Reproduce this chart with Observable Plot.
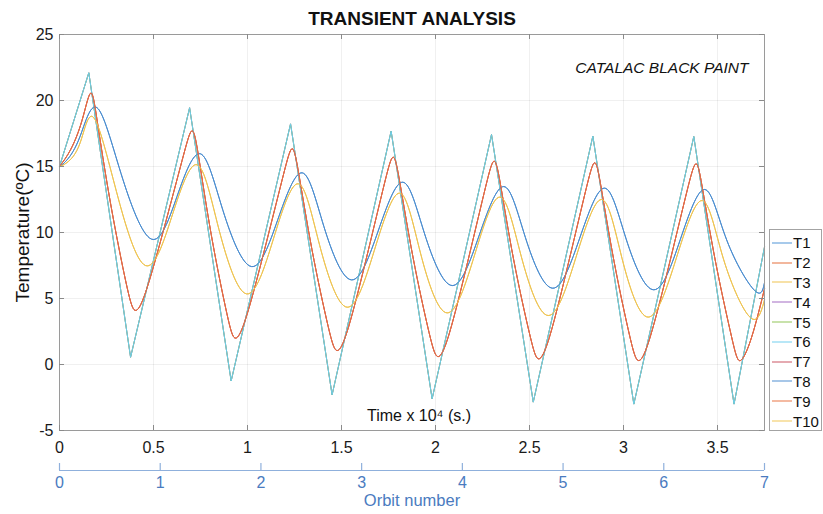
<!DOCTYPE html>
<html><head><meta charset="utf-8">
<script src="https://cdn.jsdelivr.net/npm/d3@7"></script>
<script src="https://cdn.jsdelivr.net/npm/@observablehq/plot@0.6"></script>
<style>
body{margin:0;background:#fff;font-family:"Liberation Sans",Arial,sans-serif;}
#wrap{position:relative;width:823px;height:514px;overflow:hidden;}
#main,#orbit{display:block;height:auto;}
#legend{position:absolute;left:769px;top:229px;width:51px;height:197px;padding-top:3px;border:1px solid #a3a3a3;background:#fff;}
.row{height:19.8px;display:flex;align-items:center;font-size:15px;color:#111;white-space:nowrap;}
.row svg{margin-left:2px;margin-right:1px;}
</style></head>
<body><div id="wrap"><div id="main"></div><div id="orbit"></div><div id="legend"></div></div>
<script>
// ---------- data ----------
const seriesNames = ["T1","T2","T3","T4","T5","T6","T7","T8","T9","T10"];
const seriesColors = ["#4a92d4","#e46a36","#eec04a","#a066c0","#8cc252","#6ccdee","#c8505e","#4a8bcf","#e8703f","#efc552"];
const seriesProfile = ["blue","orange","yellow","saw","saw","saw","orange","blue","orange","yellow"];

const xTicks = [0, 0.5, 1, 1.5, 2, 2.5, 3, 3.5];
const yTicks = [-5, 0, 5, 10, 15, 20, 25];
const orbitTicks = [0, 1, 2, 3, 4, 5, 6, 7];

// surface nodes: sawtooth response (time x 10^4 s, temperature ºC)
const sawTime = [0, 0.156, 0.378, 0.692, 0.913, 1.229, 1.45, 1.764, 1.982, 2.298, 2.52, 2.837, 3.055, 3.374, 3.588, 3.75];
const sawTemp = [15, 22.1, 0.55, 19.45, -1.25, 18.23, -2.3, 17.68, -2.6, 17.42, -2.85, 17.3, -3.0, 17.27, -3.0, 8.9];

const orangeTime = [0, 0.06, 0.12, 0.165, 0.201, 0.27, 0.356, 0.404, 0.464, 0.567, 0.661, 0.706, 0.741, 0.807, 0.89, 0.936, 0.996, 1.099, 1.193, 1.238, 1.274, 1.343, 1.429, 1.477, 1.537, 1.638, 1.73, 1.775, 1.811, 1.88, 1.966, 2.014, 2.074, 2.175, 2.267, 2.312, 2.348, 2.416, 2.502, 2.549, 2.609, 2.71, 2.802, 2.847, 2.882, 2.95, 3.034, 3.081, 3.142, 3.246, 3.34, 3.386, 3.421, 3.49, 3.575, 3.622, 3.682, 3.75];
const orangeTemp = [15, 16.3, 18.5, 20.55, 18.41, 12.33, 6.07, 4.1, 5.73, 10.9, 15.93, 17.7, 15.66, 9.85, 3.88, 2.0, 3.72, 9.17, 14.48, 16.34, 14.35, 8.7, 2.89, 1.06, 2.82, 8.38, 13.8, 15.7, 13.74, 8.15, 2.41, 0.6, 2.38, 8.0, 13.48, 15.4, 13.45, 7.92, 2.23, 0.43, 2.21, 7.86, 13.35, 15.28, 13.33, 7.79, 2.1, 0.3, 2.09, 7.75, 13.26, 15.2, 13.26, 7.75, 2.09, 0.3, 2.09, 5.73];

const blueTime = [0, 0.04, 0.11, 0.2, 0.327, 0.489, 0.625, 0.75, 0.869, 1.021, 1.161, 1.291, 1.406, 1.553, 1.695, 1.826, 1.942, 2.089, 2.231, 2.363, 2.478, 2.624, 2.767, 2.899, 3.014, 3.161, 3.302, 3.432, 3.549, 3.698, 3.75];
const blueTemp = [15, 15.5, 17.3, 19.45, 14.48, 9.5, 12.73, 15.96, 11.69, 7.42, 10.97, 14.52, 10.47, 6.41, 10.11, 13.81, 9.9, 5.98, 9.73, 13.48, 9.63, 5.78, 9.57, 13.36, 9.51, 5.66, 9.46, 13.26, 9.43, 5.6, 6.2];

const yellowTime = [0, 0.04, 0.11, 0.182, 0.303, 0.457, 0.6, 0.732, 0.848, 0.995, 1.138, 1.27, 1.384, 1.53, 1.675, 1.809, 1.92, 2.062, 2.208, 2.342, 2.456, 2.6, 2.747, 2.883, 2.992, 3.131, 3.28, 3.418, 3.532, 3.676, 3.75];
const yellowTemp = [15, 15.3, 16.8, 18.7, 13.1, 7.5, 11.32, 15.13, 10.24, 5.35, 9.52, 13.69, 9.02, 4.34, 8.66, 12.98, 8.45, 3.91, 8.3, 12.68, 8.2, 3.71, 8.11, 12.5, 8.05, 3.59, 8.01, 12.42, 7.98, 3.54, 4.9];

// ---------- build tables ----------
const profiles = {
  saw: [sawTime, sawTemp],
  orange: [orangeTime, orangeTemp],
  blue: [blueTime, blueTemp],
  yellow: [yellowTime, yellowTemp]
};
const seriesRows = seriesNames.map((name, i) => {
  const [ts, vs] = profiles[seriesProfile[i]];
  return ts.map((t, j) => ({series: name, t, v: vs[j]}));
});

const font = "'Liberation Sans', Arial, sans-serif";
const plotW = 823, mL = 59, mR = 59, mT = 34, mB = 30, H = 460;
const frameW = plotW - mL - mR, frameH = H - mT - mB;

const lineMarks = seriesNames.map((name, i) =>
  Plot.line(seriesRows[i], {
    x: "t", y: "v",
    stroke: seriesColors[i],
    strokeWidth: 1,
    curve: seriesProfile[i] === "saw" ? "linear" : "natural"
  })
);

const main = Plot.plot({
  width: plotW, height: H,
  marginLeft: mL, marginRight: mR, marginTop: mT, marginBottom: mB,
  style: {fontFamily: font, fontSize: "16px", color: "#1a1a1a", background: "transparent", overflow: "visible"},
  x: {domain: [0, 3.75]},
  y: {domain: [-5, 25]},
  marks: [
    Plot.gridX(xTicks, {stroke: "#000", strokeOpacity: 0.06}),
    Plot.gridY(yTicks, {stroke: "#000", strokeOpacity: 0.06}),
    ...lineMarks,
    Plot.frame({stroke: "#9a9a9a"}),
    Plot.tickY(yTicks, {stroke: "#8a8a8a", insetRight: frameW - 5}),
    Plot.tickY(yTicks, {stroke: "#8a8a8a", insetLeft: frameW - 5}),
    Plot.tickX(xTicks, {stroke: "#8a8a8a", insetTop: frameH - 5}),
    Plot.tickX(xTicks, {stroke: "#8a8a8a", insetBottom: frameH - 5}),
    Plot.axisX(xTicks, {tickSize: 0, tickPadding: 11, fontSize: 16, label: null, tickFormat: d => String(d)}),
    Plot.axisY(yTicks, {tickSize: 0, tickPadding: 6, fontSize: 16, label: null, tickFormat: d => String(d)}),
    Plot.text(["TRANSIENT ANALYSIS"], {text: d => d, frameAnchor: "top", dy: -16, fontSize: 19, fontWeight: "bold", textAnchor: "middle", lineAnchor: "middle", fill: "#111"}),
    Plot.text(["CATALAC BLACK PAINT"], {text: d => d, frameAnchor: "top-right", dx: -16, dy: 34, fontSize: 15.5, fontStyle: "italic", textAnchor: "end", lineAnchor: "middle", fill: "#111"}),
    Plot.text(["Time x 10⁴ (s.)"], {text: d => d, frameAnchor: "bottom", dx: 7, dy: -15, fontSize: 16, textAnchor: "middle", lineAnchor: "middle", fill: "#111"}),
    Plot.text(["Temperature(ºC)"], {text: d => d, frameAnchor: "left", dx: -37, rotate: -90, fontSize: 19, textAnchor: "middle", lineAnchor: "middle", fill: "#111"})
  ]
});
document.getElementById("main").append(main);

const orbitColor = "#4a7bbf";
const orbit = Plot.plot({
  width: plotW, height: 54,
  marginLeft: mL, marginRight: mR, marginTop: 3, marginBottom: 44,
  style: {fontFamily: font, fontSize: "16px", background: "transparent", overflow: "visible"},
  x: {domain: [0, 7], axis: null},
  y: {domain: [0, 1], axis: null},
  marks: [
    Plot.tickX(orbitTicks, {x: d => d, stroke: "#8fb0dc", strokeWidth: 1.2}),
    Plot.ruleY([0], {stroke: "#8fb0dc", strokeWidth: 1.2}),
    Plot.text(orbitTicks, {x: d => d, text: d => String(d), frameAnchor: "bottom", dy: 12, fill: orbitColor, fontSize: 16, lineAnchor: "middle"}),
    Plot.text(["Orbit number"], {text: d => d, frameAnchor: "bottom", dy: 30, fill: orbitColor, fontSize: 16.5, lineAnchor: "middle"})
  ]
});
document.getElementById("orbit").append(orbit);

// legend
const legend = document.getElementById("legend");
seriesNames.forEach((name, i) => {
  const row = document.createElement("div");
  row.className = "row";
  row.innerHTML = `<svg width="20" height="4"><line x1="0" x2="20" y1="2" y2="2" stroke="${seriesColors[i]}" stroke-width="1.3" stroke-opacity="0.75"/></svg><span>${name}</span>`;
  legend.append(row);
});
</script></body></html>
